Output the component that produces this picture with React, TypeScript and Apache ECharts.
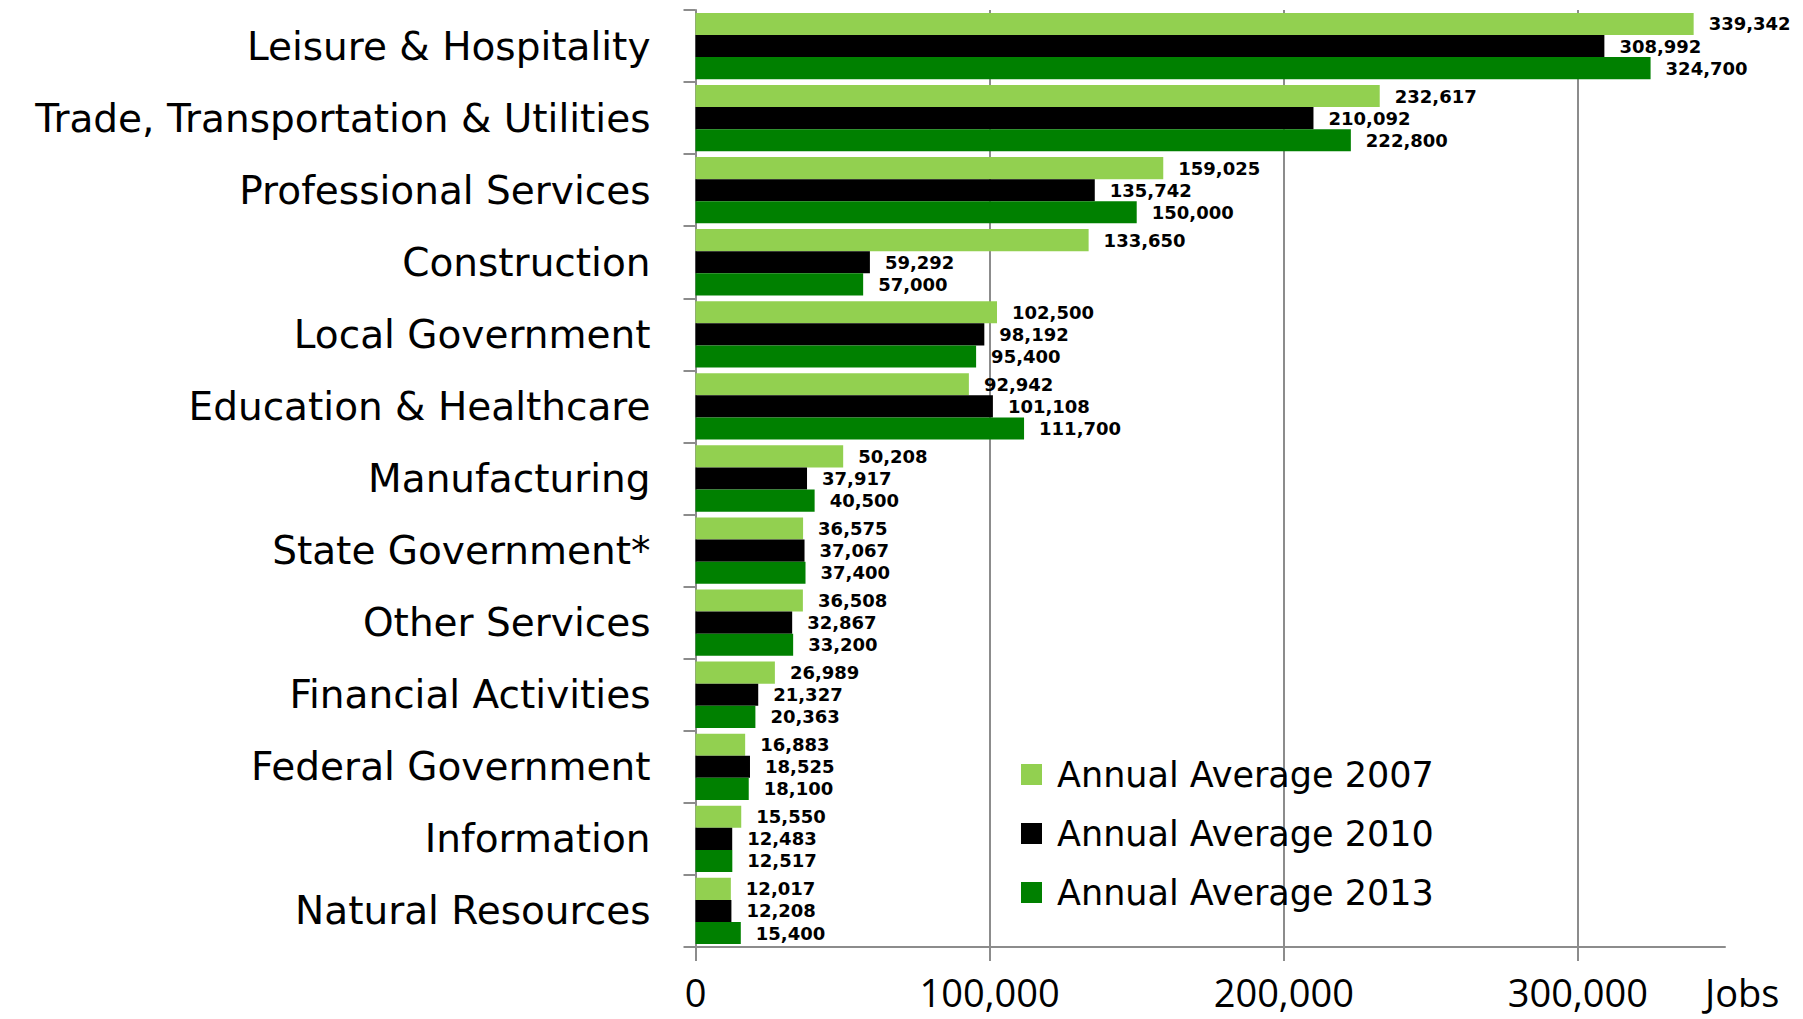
import React, { useEffect, useRef } from "react";
import * as echarts from "echarts";

const categories = [
  "Leisure & Hospitality",
  "Trade, Transportation & Utilities",
  "Professional Services",
  "Construction",
  "Local Government",
  "Education & Healthcare",
  "Manufacturing",
  "State Government*",
  "Other Services",
  "Financial Activities",
  "Federal Government",
  "Information",
  "Natural Resources",
];

const avg2007 = [339342, 232617, 159025, 133650, 102500, 92942, 50208, 36575, 36508, 26989, 16883, 15550, 12017];
const avg2010 = [308992, 210092, 135742, 59292, 98192, 101108, 37917, 37067, 32867, 21327, 18525, 12483, 12208];
const avg2013 = [324700, 222800, 150000, 57000, 95400, 111700, 40500, 37400, 33200, 20363, 18100, 12517, 15400];

const seriesNames = ["Annual Average 2007", "Annual Average 2010", "Annual Average 2013"];
const seriesColors = ["#92d050", "#000000", "#008000"];
const xTickValues = [0, 100000, 200000, 300000];
const axisTitle = "Jobs";

const fmt = (v: number) => v.toLocaleString("en-US");

export default function App() {
  const ref = useRef<HTMLDivElement>(null);
  useEffect(() => {
    if (!ref.current) return;
    const chart = echarts.init(ref.current, undefined, { renderer: "svg" });
    const data = [avg2007, avg2010, avg2013];
    chart.setOption({
      animation: false,
      backgroundColor: "#ffffff",
      grid: { left: 695.5, right: 78, top: 10, bottom: 72, containLabel: false },
      legend: {
        orient: "vertical",
        left: 1016,
        top: 752,
        icon: "rect",
        itemWidth: 21,
        itemHeight: 21,
        itemGap: 24,
        data: seriesNames,
        textStyle: { fontFamily: "DejaVu Sans", fontSize: 35, color: "#000", padding: [0, 0, 0, 10] },
      },
      xAxis: [
        {
          type: "value",
          min: 0,
          max: 350000,
          interval: 50000,
          position: "bottom",
          axisLine: { show: true, lineStyle: { color: "#8c8c8c", width: 2 } },
          axisTick: { show: true, length: 14, customValues: xTickValues, lineStyle: { color: "#8c8c8c", width: 2 } },
          axisLabel: {
            customValues: xTickValues,
            formatter: (v: number) => fmt(v),
            fontFamily: "Open Sans",
            fontSize: 38,
            color: "#000",
            margin: 26,
          },
          splitLine: { show: true, lineStyle: { color: "#e4e4e4", width: 2 } },
        },
        {
          type: "value",
          min: 0,
          max: 350000,
          interval: 100000,
          position: "top",
          axisLine: { show: false },
          axisTick: { show: false },
          axisLabel: { show: false },
          splitLine: { show: true, showMinLine: false, showMaxLine: false, lineStyle: { color: "#8c8c8c", width: 2 } },
        },
      ],
      yAxis: {
        type: "category",
        data: categories,
        inverse: true,
        axisLine: { show: true, lineStyle: { color: "#8c8c8c", width: 2 } },
        axisTick: { show: true, length: 12, lineStyle: { color: "#8c8c8c", width: 2 } },
        axisLabel: { fontFamily: "DejaVu Sans", fontSize: 39, color: "#000", margin: 45 },
      },
      graphic: [
        {
          type: "text",
          left: 1705,
          top: 973,
          style: { text: axisTitle, fontFamily: "Open Sans", fontSize: 38, fill: "#000" },
        },
      ],
      series: data.map((d, i) => ({
        name: seriesNames[i],
        type: "bar",
        xAxisIndex: 0,
        data: d,
        barGap: "0%",
        barCategoryGap: "8%",
        itemStyle: { color: seriesColors[i] },
        label: {
          show: true,
          position: "right",
          distance: 15,
          formatter: (p: any) => fmt(p.value),
          fontFamily: "DejaVu Sans",
          fontWeight: "bold",
          fontSize: 18,
          color: "#000",
        },
      })),
    });
    return () => chart.dispose();
  }, []);
  return (
    <div
      ref={ref}
      style={{ position: "fixed", left: 0, top: 0, width: 1803, height: 1019 }}
    />
  );
}
